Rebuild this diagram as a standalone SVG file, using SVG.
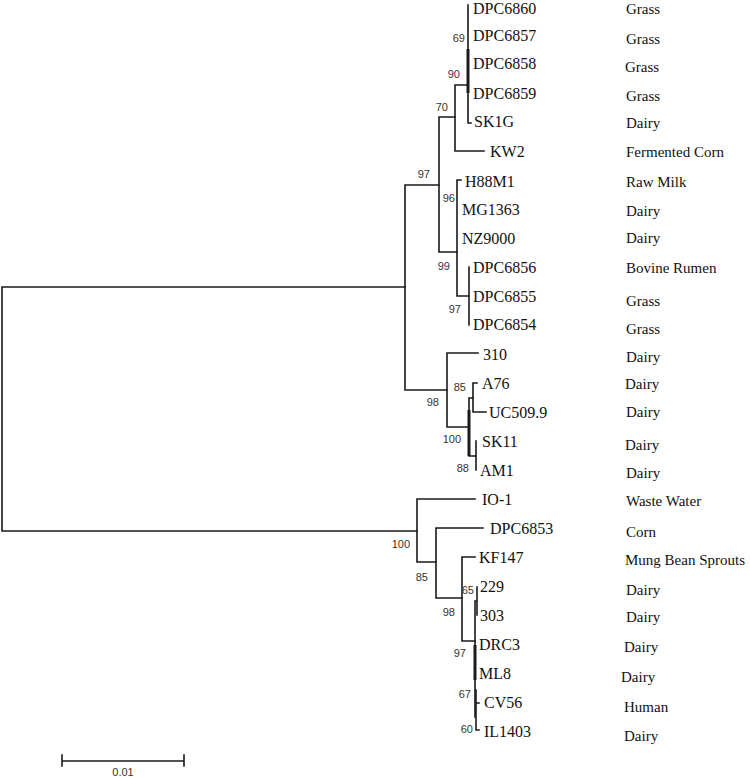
<svg xmlns="http://www.w3.org/2000/svg" width="750" height="778" viewBox="0 0 750 778">
<style>
.br{stroke:#1a1a1a;stroke-width:1.6;fill:none;stroke-linecap:square}
.th{stroke:#1a1a1a;stroke-width:3;fill:none}
.tip{font-family:"Liberation Serif","Times New Roman",serif;font-size:16px;fill:#111}
.src{font-family:"Liberation Serif","Times New Roman",serif;font-size:15px;fill:#111}
.bs{font-family:"Liberation Sans",Arial,sans-serif;font-size:11px;fill:#333;text-anchor:end}
.sc{font-family:"Liberation Sans",Arial,sans-serif;font-size:11px;fill:#333;text-anchor:middle}
</style>
<rect width="750" height="778" fill="#fff"/>
<g id="connectors">
<path class="br" d="M2,287V531M2,287H405M2,531H417"/>
<path class="br" d="M405,185V390M405,185H439M405,390H447"/>
<path class="br" d="M439,117V252M439,117H455M439,252H457"/>
<path class="br" d="M455,85V151M455,85H468M455,151H484"/>
<path class="br" d="M468,5V123M468,123H471"/>
<path class="th" d="M468,49V93"/>
<path class="br" d="M457,180V296M457,180H461M457,296H469"/>
<path class="br" d="M469,267V325"/>
<path class="br" d="M447,353V427M447,353H478M447,427H469"/>
<path class="br" d="M469,398V456M469,398H473M469,456H476"/>
<path class="th" d="M469,410V456"/>
<path class="br" d="M473,383V412M473,383H477M473,412H486"/>
<path class="br" d="M476,441V470"/>
<path class="br" d="M417,499V562M417,499H475M417,562H436"/>
<path class="br" d="M436,528V598M436,528H483M436,598H462"/>
<path class="br" d="M462,557V641M462,557H475M462,641H475"/>
<path class="br" d="M475,601V717M477,587V615M475,601H477"/>
<path class="th" d="M475,645V680"/>
<path class="br" d="M476,703H479M476,690V730M476,730H479"/>
</g>
<g id="scale-bar">
<path class="br" d="M62,761H184M62,755V766M184,755V766"/>
<text class="sc" x="123" y="776">0.01</text>
</g>
<g id="n-DPC6860"><text class="tip" x="473" y="14">DPC6860</text><text class="src" x="626" y="14">Grass</text></g>
<g id="n-DPC6857"><text class="tip" x="473" y="40.5">DPC6857</text><text class="src" x="626" y="44">Grass</text></g>
<g id="n-DPC6858"><text class="tip" x="473" y="69">DPC6858</text><text class="src" x="625" y="72">Grass</text></g>
<g id="n-DPC6859"><text class="tip" x="473" y="99">DPC6859</text><text class="src" x="626" y="101">Grass</text></g>
<g id="n-SK1G"><text class="tip" x="474" y="127">SK1G</text><text class="src" x="626" y="128">Dairy</text></g>
<g id="n-KW2"><text class="tip" x="490" y="157">KW2</text><text class="src" x="626" y="157">Fermented Corn</text></g>
<g id="n-H88M1"><text class="tip" x="465" y="187">H88M1</text><text class="src" x="626" y="187">Raw Milk</text></g>
<g id="n-MG1363"><text class="tip" x="462" y="215">MG1363</text><text class="src" x="626" y="216">Dairy</text></g>
<g id="n-NZ9000"><text class="tip" x="462" y="244">NZ9000</text><text class="src" x="626" y="243">Dairy</text></g>
<g id="n-DPC6856"><text class="tip" x="473" y="273">DPC6856</text><text class="src" x="626" y="273">Bovine Rumen</text></g>
<g id="n-DPC6855"><text class="tip" x="473" y="302">DPC6855</text><text class="src" x="626" y="306">Grass</text></g>
<g id="n-DPC6854"><text class="tip" x="473" y="330">DPC6854</text><text class="src" x="626" y="334">Grass</text></g>
<g id="n-310"><text class="tip" x="483" y="360">310</text><text class="src" x="626" y="362">Dairy</text></g>
<g id="n-A76"><text class="tip" x="482" y="389">A76</text><text class="src" x="625" y="389">Dairy</text></g>
<g id="n-UC509.9"><text class="tip" x="489" y="418">UC509.9</text><text class="src" x="626" y="417">Dairy</text></g>
<g id="n-SK11"><text class="tip" x="482" y="447">SK11</text><text class="src" x="625" y="450">Dairy</text></g>
<g id="n-AM1"><text class="tip" x="480" y="476">AM1</text><text class="src" x="626" y="478">Dairy</text></g>
<g id="n-IO-1"><text class="tip" x="482" y="505">IO-1</text><text class="src" x="626" y="506">Waste Water</text></g>
<g id="n-DPC6853"><text class="tip" x="490" y="534">DPC6853</text><text class="src" x="626" y="537">Corn</text></g>
<g id="n-KF147"><text class="tip" x="479" y="563">KF147</text><text class="src" x="625" y="565">Mung Bean Sprouts</text></g>
<g id="n-229"><text class="tip" x="480" y="592">229</text><text class="src" x="626" y="595">Dairy</text></g>
<g id="n-303"><text class="tip" x="480" y="621">303</text><text class="src" x="626" y="622">Dairy</text></g>
<g id="n-DRC3"><text class="tip" x="479" y="650">DRC3</text><text class="src" x="624" y="652">Dairy</text></g>
<g id="n-ML8"><text class="tip" x="479" y="679">ML8</text><text class="src" x="621" y="682">Dairy</text></g>
<g id="n-CV56"><text class="tip" x="484" y="708">CV56</text><text class="src" x="624" y="712">Human</text></g>
<g id="n-IL1403"><text class="tip" x="484" y="737">IL1403</text><text class="src" x="624" y="741">Dairy</text></g>
<g id="bootstrap">
<text class="bs" x="465" y="42">69</text>
<text class="bs" x="460" y="78">90</text>
<text class="bs" x="448" y="111">70</text>
<text class="bs" x="430" y="178">97</text>
<text class="bs" x="455" y="202">96</text>
<text class="bs" x="450" y="270">99</text>
<text class="bs" x="461" y="313">97</text>
<text class="bs" x="439" y="406">98</text>
<text class="bs" x="466" y="391">85</text>
<text class="bs" x="461" y="443">100</text>
<text class="bs" x="469" y="472">88</text>
<text class="bs" x="410" y="548">100</text>
<text class="bs" x="428" y="581">85</text>
<text class="bs" x="474" y="594">65</text>
<text class="bs" x="455" y="616">98</text>
<text class="bs" x="466" y="657">97</text>
<text class="bs" x="471" y="698">67</text>
<text class="bs" x="473" y="733">60</text>
</g>
</svg>
